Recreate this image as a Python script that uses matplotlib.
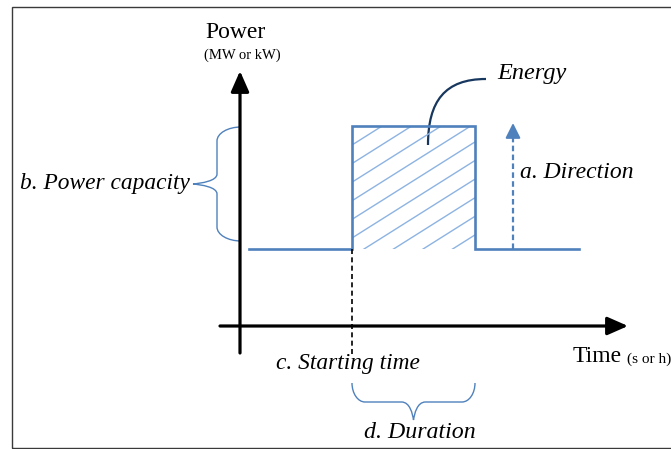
import numpy as np
import matplotlib.pyplot as plt
from matplotlib.path import Path
from matplotlib.patches import PathPatch, Rectangle

# step profile of the storage output (time, power)
time = [9, 112, 112, 235, 235, 339]
power = [77, 77, 200, 200, 77, 77]
t_start, t_end = 112, 235
p_base, p_peak = 77, 200

blue = '#4f81bd'
light_blue = '#8db3e2'
navy = '#17375e'
serif = 'Liberation Serif'


def brace(ax, p1, p2, normal, h, depth, a, b, **kw):
    # curly brace from p1 to p2, tip pointing along normal
    p1 = np.array(p1, float)
    p2 = np.array(p2, float)
    L = np.linalg.norm(p2 - p1)
    u = (p2 - p1) / L
    n = np.array(normal, float)
    m = L / 2
    sn = [(0, 0),
          (0, 0.55 * h), (0.45 * a, h), (a, h),
          (m - b, h),
          (m - 0.3 * b, h), (m - 0.08 * b, depth - 0.35 * (depth - h)), (m, depth),
          (m + 0.08 * b, depth - 0.35 * (depth - h)), (m + 0.3 * b, h), (m + b, h),
          (L - a, h),
          (L - 0.45 * a, h), (L, 0.55 * h), (L, 0)]
    verts = [p1 + s * u + k * n for s, k in sn]
    codes = [Path.MOVETO] + [Path.CURVE4] * 3 + [Path.LINETO] + [Path.CURVE4] * 6 \
        + [Path.LINETO] + [Path.CURVE4] * 3
    ax.add_patch(PathPatch(Path(verts, codes), fill=False, **kw))


fig = plt.figure(figsize=(6.71, 4.49), dpi=100)
ax = fig.add_axes([0, 0, 1, 1])
ax.set_xlim(-240, 431)
ax.set_ylim(-123, 326)
ax.axis('off')

# outer frame
ax.add_patch(Rectangle((-228.5, -122), 700, 441, fill=False, ec='#3a3a3a', lw=1.0))

# axes arrows
arrow_kw = dict(arrowstyle='-|>,head_length=1.25,head_width=0.55', lw=2.3, color='black',
                shrinkA=0, shrinkB=0)
ax.annotate('', xy=(0, 255), xytext=(0, -27), arrowprops=arrow_kw)
ax.annotate('', xy=(388, 0), xytext=(-20, 0), arrowprops=arrow_kw)

# hatching inside the pulse
rect = Rectangle((t_start, p_base), t_end - t_start, p_peak - p_base, fill=False, lw=0)
ax.add_patch(rect)
slope = 0.63
xs = np.array([t_start, t_end])
for k in range(-8, 7):
    y0 = 88 + 18.6 * k
    ln, = ax.plot(xs, y0 + slope * (xs - t_start), color=light_blue, lw=1.0)
    ln.set_clip_path(rect)

# power profile
ax.plot(time, power, color=blue, lw=1.9, solid_joinstyle='miter')

# starting time marker
ax.plot([t_start, t_start], [p_base, -29], color='black', lw=1.2, ls=(0, (3, 2)))

# direction arrow
ax.plot([273, 273], [p_base, 196], color=blue, lw=1.6, ls=(0, (2.5, 1.5)))
ax.annotate('', xy=(273, 203), xytext=(273, 190),
            arrowprops=dict(arrowstyle='-|>,head_length=0.9,head_width=0.45', lw=1.5,
                            color=blue, shrinkA=0, shrinkB=0))

# energy pointer
verts = [(246, 247), (205, 247), (188, 225), (188, 181)]
ax.add_patch(PathPatch(Path(verts, [Path.MOVETO] + [Path.CURVE4] * 3),
                       fill=False, ec=navy, lw=1.6))

# braces
brace(ax, (1, 85), (1, 199), (-1, 0), 24, 48, 14, 10, ec=blue, lw=1.0)
brace(ax, (t_start, -57), (t_end, -57), (0, -1), 19, 37, 13, 12, ec=blue, lw=1.0)

# labels
ax.text(-35, 294, 'Power', family=serif, fontsize=17, va='center', ha='left')
ax.text(-36, 271, '(MW or kW)', family=serif, fontsize=10.5, va='center', ha='left')
ax.text(333, -31, 'Time', family=serif, fontsize=17, va='center', ha='left')
ax.text(387, -33, '(s or h)', family=serif, fontsize=11, va='center', ha='left')
ax.text(257, 253, 'Energy', family=serif, style='italic', fontsize=17.5, va='center')
ax.text(280, 153, 'a. Direction', family=serif, style='italic', fontsize=17, va='center')
ax.text(-220, 143, 'b. Power capacity', family=serif, style='italic', fontsize=16.8,
        va='center')
ax.text(36, -37, 'c. Starting time', family=serif, style='italic', fontsize=16.8,
        va='center')
ax.text(124, -106, 'd. Duration', family=serif, style='italic', fontsize=17.2, va='center')

fig.savefig('out.png', dpi=100)
